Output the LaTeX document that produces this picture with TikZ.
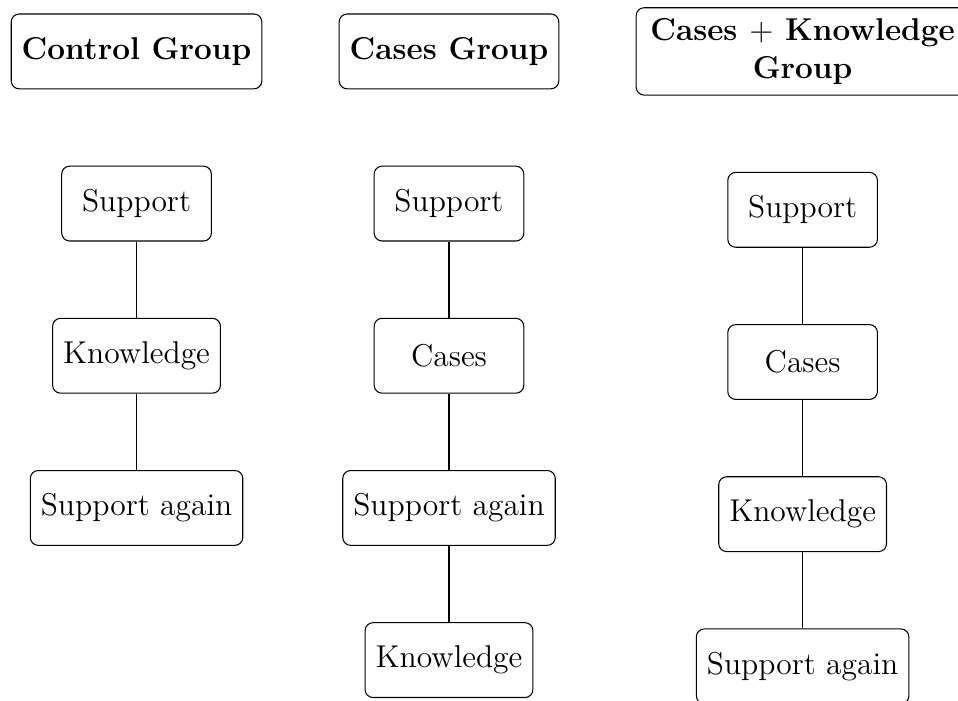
\documentclass[tikz,border=0pt,12pt]{standalone}
\usetikzlibrary{positioning}
\tikzset{
  hdr/.style ={draw,rounded corners=3pt,font=\bfseries,minimum height=1cm},
  obj/.style ={draw,rounded corners=3pt,minimum width=2cm,minimum height=1cm},
}
\begin{document}
\begin{tikzpicture}[node distance=1.02cm]
  \useasboundingbox (-1.825,-8.67) rectangle (10.98,0.687);
  % group headers
  \node[hdr] (ctrl) at (0,0) {Control Group};
  \node[hdr,right=of ctrl] (cas) {Cases Group};
  \node[hdr,right=of cas,align=center,minimum width=4.45cm] (ck) {Cases $+$ Knowledge\\Group};
  % control group
  \node[obj,below=of ctrl] (ctrlS) {Support};
  \node[obj,below=of ctrlS] (ctrlK) {Knowledge};
  \node[obj,below=of ctrlK] (ctrlA) {Support again};
  % cases group
  \node[obj,below=of cas] (casS) {Support};
  \node[obj,below=of casS] (casC) {Cases};
  \node[obj,below=of casC] (casA) {Support again};
  \node[obj,below=of casA] (casK) {Knowledge};
  % cases + knowledge group
  \node[obj,below=of ck] (ckS) {Support};
  \node[obj,below=of ckS] (ckC) {Cases};
  \node[obj,below=of ckC] (ckK) {Knowledge};
  \node[obj,below=of ckK] (ckA) {Support again};
  \foreach \a/\b in {ctrlS/ctrlK,ctrlK/ctrlA,casS/casC,casC/casA,casA/casK,ckS/ckC,ckC/ckK,ckK/ckA}
    \draw (\a) -- (\b);
\end{tikzpicture}
\end{document}
